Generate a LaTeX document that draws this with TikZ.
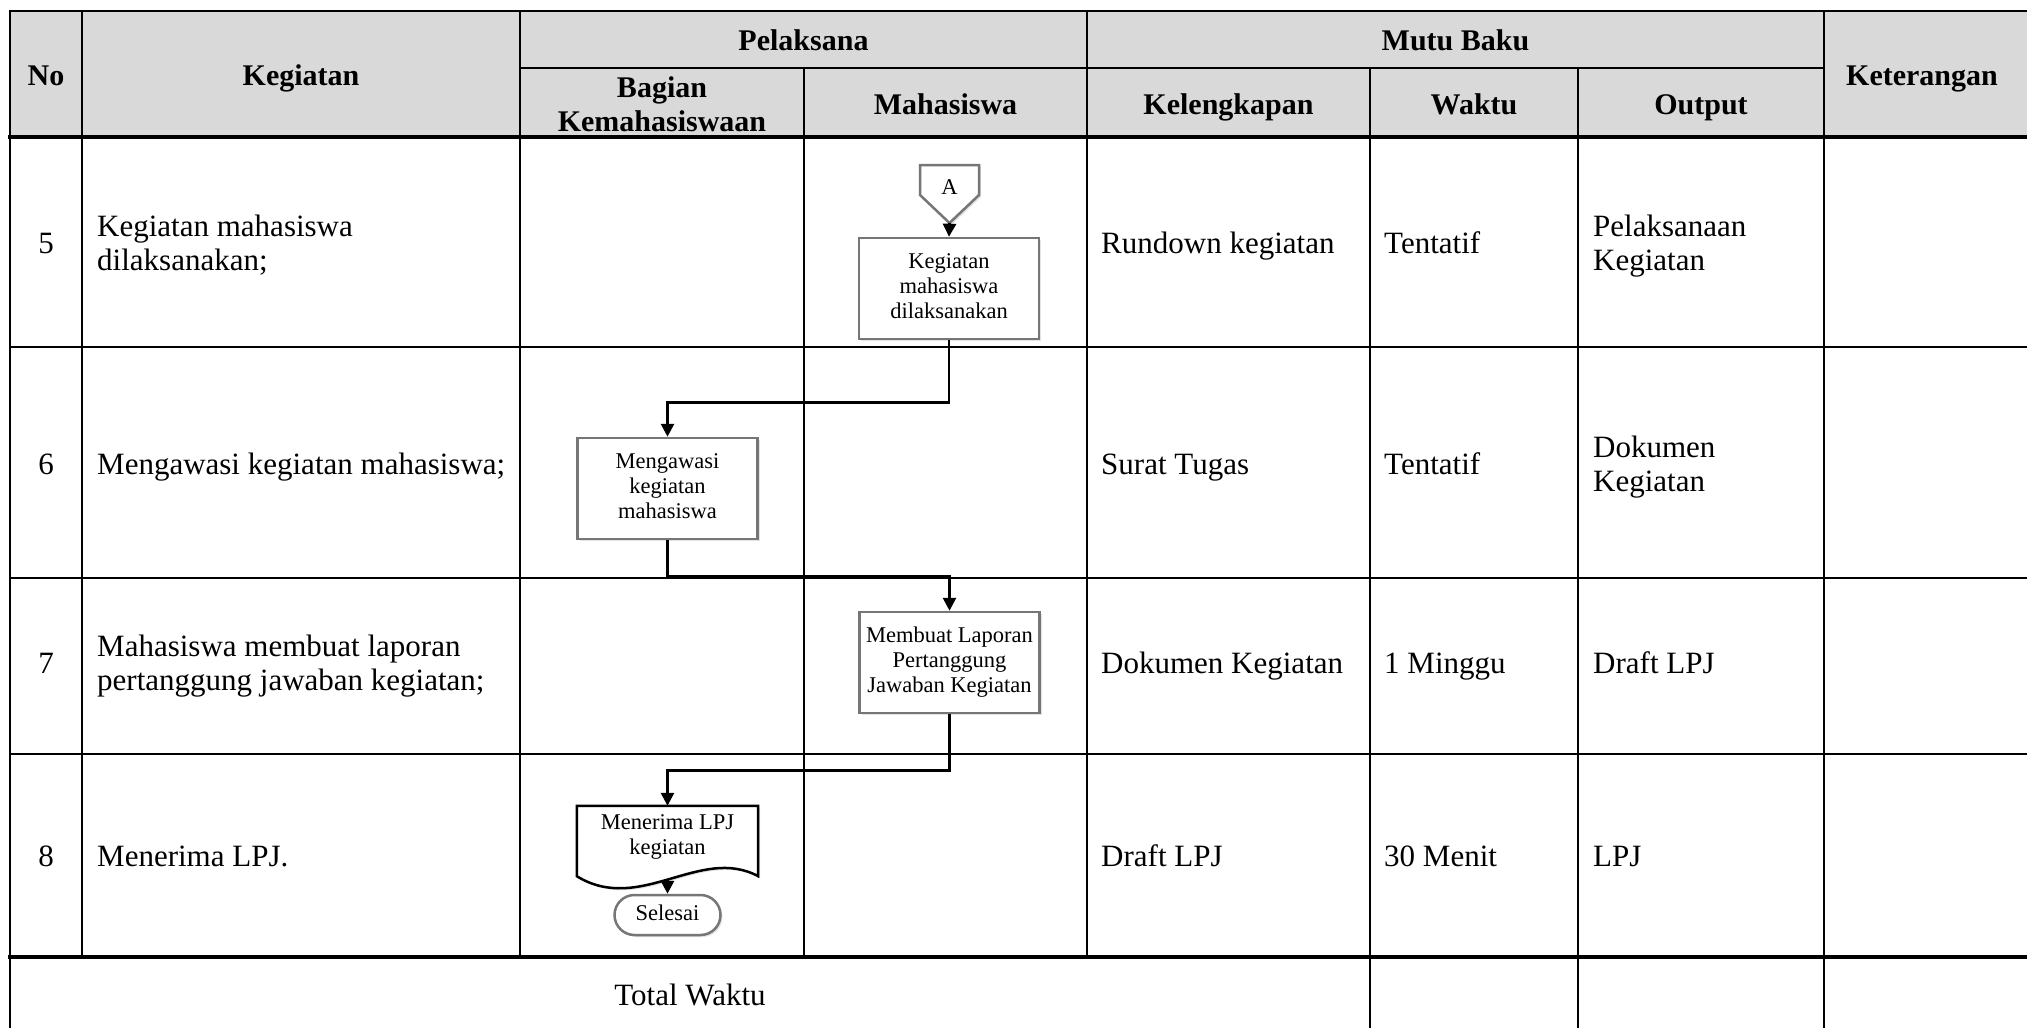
\documentclass[tikz,border=0pt]{standalone}
\usepackage{fontspec}
\setmainfont{Liberation Serif}
\usetikzlibrary{arrows.meta,shadows}
\definecolor{hdgray}{HTML}{D9D9D9}
\definecolor{boxgray}{HTML}{767676}
\begin{document}
\begin{tikzpicture}[x=1pt,y=-1pt,
 grid/.style={line width=2.5pt,line cap=rect},
 heavy/.style={line width=3.5pt,line cap=rect},
 hd/.style={font=\bfseries\fontsize{30}{34}\selectfont,align=center,inner sep=0pt},
 txt/.style={font=\fontsize{31}{34}\selectfont,align=left,inner sep=0pt,anchor=west},
 nmb/.style={font=\fontsize{31}{34}\selectfont,inner sep=0pt},
 shd/.style={drop shadow={shadow xshift=2pt,shadow yshift=-2pt,opacity=0.22}},
 fbox/.style={draw=boxgray,line width=2.5pt,fill=white,minimum width=180pt,minimum height=101pt,align=center,inner sep=0pt,font=\fontsize{22.5}{25}\selectfont,shd},
 ftxt/.style={align=center,inner sep=0pt,font=\fontsize{22.5}{25}\selectfont},
 flow/.style={line width=2.7pt,-{Triangle[width=13pt,length=13pt]}},
]
\useasboundingbox (0,0) rectangle (2027,1028);
\clip (0,0) rectangle (2027,1028);
% header background
\fill[hdgray] (10,11) rectangle (2040,137);
% horizontal lines
\draw[grid] (10,11) -- (2040,11);
\draw[grid] (520,68) -- (1824,68);
\draw[heavy] (10,137) -- (2040,137);
\draw[grid] (10,347) -- (2040,347);
\draw[grid] (10,578) -- (2040,578);
\draw[grid] (10,754) -- (2040,754);
\draw[heavy] (10,957) -- (2040,957);
% vertical lines
\draw[grid] (10,11) -- (10,1040);
\draw[grid] (82,11) -- (82,957);
\draw[grid] (520,11) -- (520,957);
\draw[grid] (804,68) -- (804,957);
\draw[grid] (1087,11) -- (1087,957);
\draw[grid] (1370,68) -- (1370,1040);
\draw[grid] (1578,68) -- (1578,1040);
\draw[grid] (1824,11) -- (1824,1040);
% header texts
\node[hd] (hNo) at (46,79) {\strut No};
\node[hd] (hKeg) at (301,79) {\strut Kegiatan};
\node[hd] (hPel) at (803.5,44) {\strut Pelaksana};
\node[hd] (hBag) at (662,108) {\strut Bagian\\\strut Kemahasiswaan};
\node[hd] (hMhs) at (945.5,108) {\strut Mahasiswa};
\node[hd] (hMutu) at (1455.5,44) {\strut Mutu Baku};
\node[hd] (hKel) at (1228.5,108) {\strut Kelengkapan};
\node[hd] (hWak) at (1474,108) {\strut Waktu};
\node[hd] (hOut) at (1701,108) {\strut Output};
\node[hd] (hKet) at (1922,79) {\strut Keterangan};
% row 5
\node[nmb] (n5) at (46,247) {\strut 5};
\node[txt] (k5) at (97,247) {\strut Kegiatan mahasiswa\\\strut dilaksanakan;};
\node[txt] (c5) at (1101,247) {\strut Rundown kegiatan};
\node[txt] (w5) at (1384,247) {\strut Tentatif};
\node[txt] (o5) at (1593,247) {\strut Pelaksanaan\\\strut Kegiatan};
% row 6
\node[nmb] (n6) at (46,467.5) {\strut 6};
\node[txt] (k6) at (97,467.5) {\strut Mengawasi kegiatan mahasiswa;};
\node[txt] (c6) at (1101,467.5) {\strut Surat Tugas};
\node[txt] (w6) at (1384,467.5) {\strut Tentatif};
\node[txt] (o6) at (1593,467.5) {\strut Dokumen\\\strut Kegiatan};
% row 7
\node[nmb] (n7) at (46,667) {\strut 7};
\node[txt] (k7) at (97,667) {\strut Mahasiswa membuat laporan\\\strut pertanggung jawaban kegiatan;};
\node[txt] (c7) at (1101,667) {\strut Dokumen Kegiatan};
\node[txt] (w7) at (1384,667) {\strut 1 Minggu};
\node[txt] (o7) at (1593,667) {\strut Draft LPJ};
% row 8
\node[nmb] (n8) at (46,859.5) {\strut 8};
\node[txt] (k8) at (97,859.5) {\strut Menerima LPJ.};
\node[txt] (c8) at (1101,859.5) {\strut Draft LPJ};
\node[txt] (w8) at (1384,859.5) {\strut 30 Menit};
\node[txt] (o8) at (1593,859.5) {\strut LPJ};
% total
\node[nmb] (tot) at (690,999) {\strut Total Waktu};
% flowchart
\path[draw=boxgray,line width=2.5pt,fill=white,line join=miter,shd]
  (920,165) -- (979,165) -- (979,195) -- (949.5,223) -- (920,195) -- cycle;
\node[ftxt] (A) at (949.5,189) {\strut A};
\coordinate (Atip) at (949.5,223);
\node[fbox] (b1) at (949,288.5) {\strut Kegiatan\\\strut mahasiswa\\\strut dilaksanakan};
\node[fbox] (b2) at (667.5,488.5) {\strut Mengawasi\\\strut kegiatan\\\strut mahasiswa};
\node[fbox] (b3) at (949.5,662.5) {\strut Membuat Laporan\\\strut Pertanggung\\\strut Jawaban Kegiatan};
\node[minimum width=181pt,minimum height=70pt,inner sep=0pt] (docs) at (667.5,841) {};
\path[draw=black,line width=2.5pt,fill=white,shd]
  (docs.north west) -- (docs.north east) -- (docs.south east)
  .. controls (700,845) and (640,915) .. (docs.south west) -- cycle;
\node[ftxt] (doc) at (667.5,836.5) {\strut Menerima LPJ\\\strut kegiatan};
\coordinate (docb) at (667.5,879);
\node[draw=boxgray,line width=2.5pt,fill=white,rounded corners=20pt,minimum width=106pt,minimum height=40pt,inner sep=0pt,font=\fontsize{22.5}{25}\selectfont,shd] (sel) at (667.5,915) {\strut Selesai};
% connectors
\draw[flow] (Atip) -- (b1.north);
\draw[flow] (b1.south) -- ++(0,62) -| (b2.north);
\draw[flow] (b2.south) -- ++(0,36) -| (b3.north);
\draw[flow] (b3.south) -- ++(0,56) -| (docs.north);
\draw[flow] (docb) -- (sel.north);
\end{tikzpicture}
\end{document}
